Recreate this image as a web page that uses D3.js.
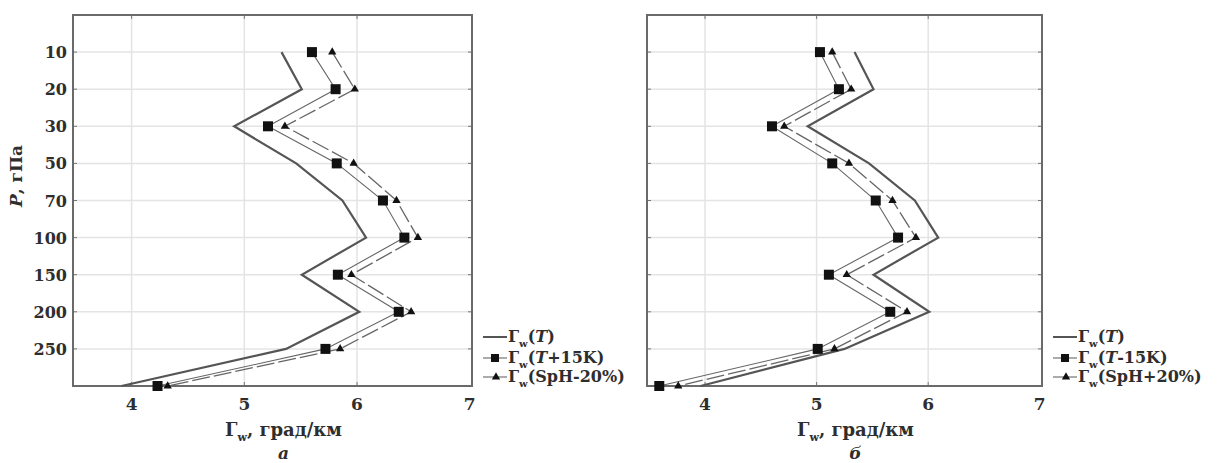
<!DOCTYPE html>
<html>
<head>
<meta charset="utf-8">
<script src="https://cdn.jsdelivr.net/npm/d3@7"></script>
<style>
  body { margin: 0; background: #fff; }
  text { font-family: "DejaVu Serif", "Liberation Serif", serif; font-weight: bold; fill: #2e2e2e; }
</style>
</head>
<body>
<div id="chart"></div>
<script>
"use strict"

// pressure levels, hPa (the last one sits on the bottom border, unlabeled)
var levels = ["10","20","30","50","70","100","150","200","250","300"];
var levelLabels = ["10","20","30","50","70","100","150","200","250",""];
var xTicks = [4, 5, 6, 7];

// panel a
var gammaTa = [5.33, 5.51, 4.91, 5.46, 5.87, 6.08, 5.51, 6.02, 5.37, 3.91];
var gammaTplus15 = [5.60, 5.81, 5.21, 5.82, 6.23, 6.42, 5.83, 6.37, 5.72, 4.23];
var gammaSpHminus20 = [5.78, 5.98, 5.36, 5.97, 6.35, 6.54, 5.95, 6.48, 5.85, 4.32];
// panel б
var gammaTb = [5.34, 5.51, 4.92, 5.47, 5.88, 6.09, 5.51, 6.01, 5.25, 3.96];
var gammaTminus15 = [5.03, 5.20, 4.60, 5.14, 5.53, 5.73, 5.11, 5.66, 5.01, 3.59];
var gammaSpHplus20 = [5.14, 5.31, 4.71, 5.29, 5.68, 5.89, 5.27, 5.81, 5.16, 3.76];

var svg = d3.select("#chart").append("svg")
  .attr("width", 1218)
  .attr("height", 463);

function drawPanel(opt) {
  var x = d3.scaleLinear().domain([3.48, 7.02]).range([opt.left, opt.right]);
  var y = d3.scaleLinear().domain([-1, levels.length - 1]).range([opt.top, opt.bottom]);
  var g = svg.append("g");

  // grid
  g.selectAll(".hg").data(levels.slice(0, levels.length - 1)).enter().append("line")
    .attr("x1", opt.left).attr("x2", opt.right)
    .attr("y1", function(d, i) { return y(i) }).attr("y2", function(d, i) { return y(i) })
    .attr("stroke", "#e4e4e4").attr("stroke-width", 1.5);
  g.selectAll(".vg").data([4, 5, 6]).enter().append("line")
    .attr("y1", opt.top).attr("y2", opt.bottom)
    .attr("x1", function(d) { return x(d) }).attr("x2", function(d) { return x(d) })
    .attr("stroke", "#e4e4e4").attr("stroke-width", 1.5);

  // inner ticks
  levels.slice(0, levels.length - 1).forEach(function(d, i) {
    g.append("line").attr("x1", opt.left).attr("x2", opt.left + 4)
      .attr("y1", y(i)).attr("y2", y(i)).attr("stroke", "#777");
    g.append("line").attr("x1", opt.right).attr("x2", opt.right - 4)
      .attr("y1", y(i)).attr("y2", y(i)).attr("stroke", "#777");
  });
  [4, 5, 6].forEach(function(d) {
    g.append("line").attr("x1", x(d)).attr("x2", x(d))
      .attr("y1", opt.top).attr("y2", opt.top + 4).attr("stroke", "#777");
    g.append("line").attr("x1", x(d)).attr("x2", x(d))
      .attr("y1", opt.bottom).attr("y2", opt.bottom - 4).attr("stroke", "#777");
  });

  // frame
  g.append("rect")
    .attr("x", opt.left).attr("y", opt.top)
    .attr("width", opt.right - opt.left).attr("height", opt.bottom - opt.top)
    .attr("fill", "none").attr("stroke", "#6a6a6a").attr("stroke-width", 2);

  // x tick labels
  g.selectAll(".xt").data(xTicks).enter().append("text")
    .attr("x", function(d) { return x(d) }).attr("y", opt.bottom + 24)
    .attr("text-anchor", "middle").style("font-size", "17px")
    .text(function(d) { return d });

  // y tick labels
  if (opt.yLabels) {
    g.selectAll(".yt").data(levelLabels).enter().append("text")
      .attr("x", opt.left - 6).attr("y", function(d, i) { return y(i) + 6 })
      .attr("text-anchor", "end").style("font-size", "16px")
      .text(function(d) { return d });
    var yl = g.append("text")
      .attr("transform", "translate(22,176) rotate(-90)")
      .attr("text-anchor", "middle").style("font-size", "17px");
    yl.append("tspan").style("font-style", "italic").text("P");
    yl.append("tspan").text(", гПа");
  }

  // axis title
  var cx = (opt.left + opt.right) / 2 + 11;
  var t = g.append("text").attr("x", cx).attr("y", opt.bottom + 50)
    .attr("text-anchor", "middle").style("font-size", "18px");
  t.append("tspan").text("Г");
  t.append("tspan").attr("dy", 5).style("font-size", "11px").text("w");
  t.append("tspan").attr("dy", -5).text(", град/км");
  g.append("text").attr("x", cx).attr("y", opt.bottom + 73)
    .attr("text-anchor", "middle").style("font-size", "17px").style("font-style", "italic")
    .text(opt.letter);

  var line = d3.line()
    .x(function(d) { return x(d) })
    .y(function(d, i) { return y(i) });

  // series lines
  g.append("path").datum(opt.s3).attr("d", line)
    .attr("fill", "none").attr("stroke", "#666").attr("stroke-width", 1.3)
    .attr("stroke-dasharray", "18,4");
  g.append("path").datum(opt.s2).attr("d", line)
    .attr("fill", "none").attr("stroke", "#666").attr("stroke-width", 1.1);
  g.append("path").datum(opt.s1).attr("d", line)
    .attr("fill", "none").attr("stroke", "#555").attr("stroke-width", 2.2);

  // markers
  g.selectAll(".sq").data(opt.s2).enter().append("rect")
    .attr("x", function(d) { return x(d) - 5 }).attr("y", function(d, i) { return y(i) - 5 })
    .attr("width", 10).attr("height", 10).attr("fill", "#111");
  var tri = d3.symbol().type(d3.symbolTriangle).size(30);
  g.selectAll(".tr").data(opt.s3).enter().append("path")
    .attr("d", tri)
    .attr("transform", function(d, i) { return "translate(" + x(d) + "," + y(i) + ")" })
    .attr("fill", "#111");

  // legend
  var lx = opt.right + 11, ly = [337, 358, 377];
  var lg = g.append("g");
  lg.append("line").attr("x1", lx).attr("x2", lx + 24).attr("y1", ly[0]).attr("y2", ly[0])
    .attr("stroke", "#555").attr("stroke-width", 2);
  lg.append("line").attr("x1", lx).attr("x2", lx + 24).attr("y1", ly[1]).attr("y2", ly[1])
    .attr("stroke", "#666").attr("stroke-width", 1.1);
  lg.append("rect").attr("x", lx + 8).attr("y", ly[1] - 4).attr("width", 8).attr("height", 8).attr("fill", "#111");
  lg.append("line").attr("x1", lx).attr("x2", lx + 24).attr("y1", ly[2]).attr("y2", ly[2])
    .attr("stroke", "#666").attr("stroke-width", 1.1);
  lg.append("path").attr("d", tri).attr("transform", "translate(" + (lx + 13) + "," + ly[2] + ")").attr("fill", "#111");

  opt.names.forEach(function(n, i) {
    var tx = lg.append("text").attr("x", lx + 25).attr("y", ly[i] + 5).style("font-size", "16px");
    tx.append("tspan").text("Г");
    tx.append("tspan").attr("dy", 5).style("font-size", "10px").text("w");
    tx.append("tspan").attr("dy", -5).text("(");
    tx.append("tspan").style("font-style", "italic").text(n[0]);
    tx.append("tspan").text(n[1]);
  });
}

drawPanel({
  left: 73, right: 472, top: 15, bottom: 386, yLabels: true, letter: "а",
  s1: gammaTa, s2: gammaTplus15, s3: gammaSpHminus20,
  names: [["T", ")"], ["T", "+15K)"], ["", "SpH-20%)"]]
});
drawPanel({
  left: 647, right: 1042, top: 15, bottom: 386, yLabels: false, letter: "б",
  s1: gammaTb, s2: gammaTminus15, s3: gammaSpHplus20,
  names: [["T", ")"], ["T", "-15K)"], ["", "SpH+20%)"]]
});
</script>
</body>
</html>
